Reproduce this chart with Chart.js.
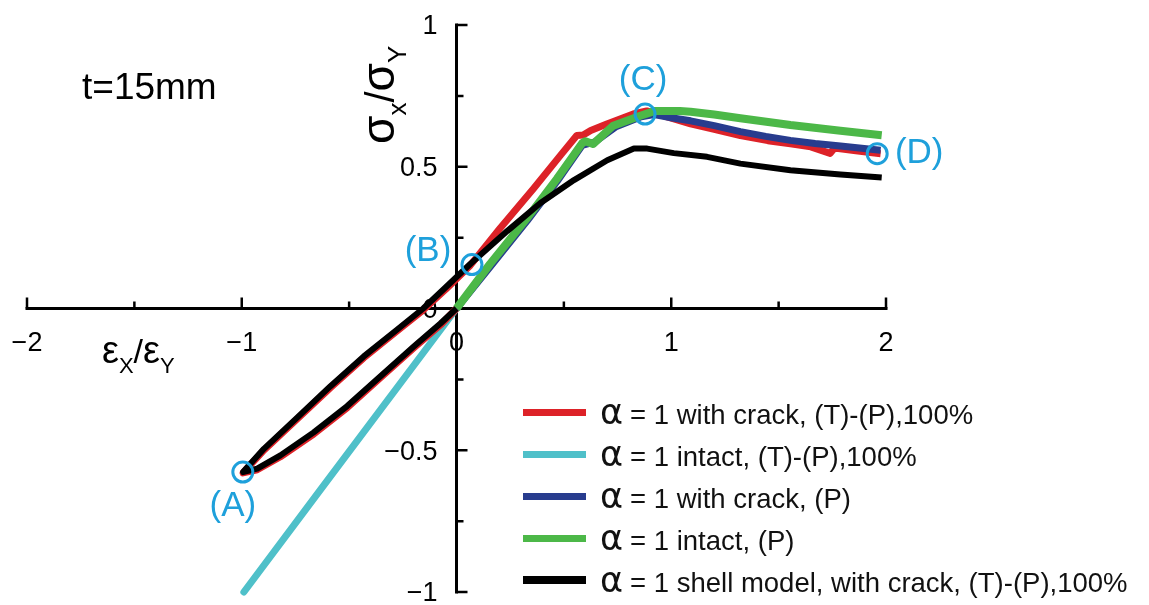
<!DOCTYPE html>
<html>
<head>
<meta charset="utf-8">
<script src="https://cdn.jsdelivr.net/npm/chart.js@4.4.0/dist/chart.umd.min.js"></script>
<style>
  html, body { margin: 0; padding: 0; background: #fff; }
  #wrap { position: relative; width: 1149px; height: 605px; }
  #legend {
    position: absolute; left: 523px; top: 391px;
    font-family: "Liberation Sans", Arial, sans-serif; font-size: 27.5px; color: #111;
  }
  .row { height: 42px; display: flex; align-items: center; white-space: nowrap; }
  .sw { width: 63px; margin-right: 14px; }
  .al { font-family: "DejaVu Sans", sans-serif; font-size: 35px; margin-right: 7px; }
</style>
</head>
<body>
<div id="wrap">
  <canvas id="chart" width="1149" height="605"></canvas>
  <div id="legend"></div>
</div>
<script>
// series names + colours (legend order)
const seriesNames = [
  '= 1 with crack, (T)-(P),100%',
  '= 1 intact, (T)-(P),100%',
  '= 1 with crack, (P)',
  '= 1 intact, (P)',
  '= 1 shell model, with crack, (T)-(P),100%'
];
const seriesColors = ['#dd2228', '#4fc0c9', '#283c8e', '#4cb848', '#000000'];

// alpha = 1 with crack, (T)-(P)
const crackTPStrain = [0, -0.075, -0.199, -0.354, -0.509, -0.665, -0.82, -0.928, -0.994,
  -0.897, -0.742, -0.587, -0.432, -0.276, -0.155, -0.05, 0.064, 0.204, 0.36, 0.484, 0.56,
  0.59, 0.625, 0.70, 0.823, 0.886, 0.95, 1.09, 1.2, 1.322, 1.45, 1.555, 1.65, 1.74, 1.76, 1.86, 1.975];
const crackTPStress = [0, -0.058, -0.139, -0.244, -0.35, -0.443, -0.523, -0.569, -0.58,
  -0.5, -0.39, -0.279, -0.174, -0.079, -0.005, 0.068, 0.152, 0.284, 0.424, 0.54, 0.61,
  0.612, 0.628, 0.651, 0.686, 0.697, 0.683, 0.651, 0.632, 0.61, 0.592, 0.581, 0.57, 0.547, 0.566, 0.556, 0.546];

// alpha = 1 intact, (T)-(P)
const intactTPStrain = [0, -0.634, -0.99, -0.634, 0, 0.16, 0.33, 0.47, 0.58];
const intactTPStress = [0, -0.64, -1.0, -0.64, 0, 0.155, 0.316, 0.456, 0.578];

// alpha = 1 with crack, (P)
const crackPStrain = [0, 0.16, 0.33, 0.47, 0.585, 0.645, 0.74, 0.86, 0.92, 1.0, 1.09, 1.2, 1.322, 1.44, 1.555, 1.67, 1.788, 1.975];
const crackPStress = [0, 0.15, 0.31, 0.45, 0.575, 0.588, 0.64, 0.676, 0.684, 0.673, 0.662, 0.645, 0.624, 0.607, 0.593, 0.582, 0.573, 0.558];

// alpha = 1 intact, (P)
const intactPStrain = [0, 0.156, 0.329, 0.469, 0.585, 0.60, 0.636, 0.73, 0.856, 0.925, 1.04, 1.09, 1.2, 1.322, 1.555, 1.788, 1.98];
const intactPStress = [0, 0.157, 0.319, 0.459, 0.583, 0.590, 0.580, 0.645, 0.68, 0.697, 0.697, 0.694, 0.684, 0.671, 0.647, 0.627, 0.611];

// alpha = 1 shell model, with crack, (T)-(P)
const shellStrain = [0, -0.075, -0.199, -0.354, -0.509, -0.665, -0.82, -0.928, -0.994,
  -0.897, -0.742, -0.587, -0.432, -0.276, -0.155, -0.05, 0.064, 0.236, 0.391, 0.547, 0.702,
  0.826, 0.888, 1.012, 1.167, 1.322, 1.555, 1.788, 1.98];
const shellStress = [0, -0.053, -0.134, -0.239, -0.344, -0.437, -0.518, -0.565, -0.577,
  -0.495, -0.385, -0.274, -0.169, -0.074, 0.0, 0.075, 0.157, 0.273, 0.372, 0.453, 0.523,
  0.564, 0.564, 0.548, 0.535, 0.511, 0.488, 0.473, 0.462];

// marked states (A)-(D)
const markerLabels = ['(A)', '(B)', '(C)', '(D)'];
const markerStrain = [-0.995, 0.072, 0.878, 1.959];
const markerStress = [-0.577, 0.155, 0.686, 0.546];

// axis ticks
const xMajorTicks = [-2, -1, 0, 1, 2];
const xMinorTicks = [-1.5, -0.5, 0.5, 1.5];
const xTickLabels = ['\u22122', '\u22121', '0', '1', '2'];
const yMajorTicks = [1, 0.5, 0, -0.5, -1];
const yMinorTicks = [0.75, 0.25, -0.25, -0.75];
const yTickLabels = ['1', '0.5', '0', '\u22120.5', '\u22121'];

const toPoints = (xs, ys) => xs.map((x, i) => ({ x: x, y: ys[i] }));

const seriesData = [
  toPoints(crackTPStrain, crackTPStress),
  toPoints(intactTPStrain, intactTPStress),
  toPoints(crackPStrain, crackPStress),
  toPoints(intactPStrain, intactPStress),
  toPoints(shellStrain, shellStress)
];
const lineWidths = [7, 7, 7, 8, 6];
const drawOrder = [3, 4, 2, 1, 0]; // black on top, cyan at the bottom

const markerColor = '#1ea0db';
const labelOffsets = [[-10, 34], [-44, -13], [-2, -34], [42, 0]];
const FONT = '"Liberation Sans", Arial, sans-serif';

function drawRuns(ctx, runs, x, y) {
  runs.forEach((r) => {
    ctx.font = r.size + 'px ' + FONT;
    ctx.fillText(r.text, x, y + (r.dy || 0));
    x += ctx.measureText(r.text).width;
  });
}

const crossAxes = {
  id: 'crossAxes',
  beforeDatasetsDraw(chart) {
    const ctx = chart.ctx;
    const xs = chart.scales.x, ys = chart.scales.y;
    const x0 = xs.getPixelForValue(0), y0 = ys.getPixelForValue(0);
    ctx.save();
    ctx.strokeStyle = '#000';
    ctx.fillStyle = '#000';
    ctx.lineWidth = 3;
    ctx.beginPath();
    ctx.moveTo(xs.getPixelForValue(-2) - 1.5, y0);
    ctx.lineTo(xs.getPixelForValue(2) + 1.5, y0);
    ctx.moveTo(x0, ys.getPixelForValue(1) - 1.5);
    ctx.lineTo(x0, ys.getPixelForValue(-1) + 1.5);
    ctx.stroke();

    ctx.lineWidth = 2.5;
    ctx.beginPath();
    xMajorTicks.forEach((v) => { const p = xs.getPixelForValue(v); ctx.moveTo(p, y0); ctx.lineTo(p, y0 - 11); });
    xMinorTicks.forEach((v) => { const p = xs.getPixelForValue(v); ctx.moveTo(p, y0); ctx.lineTo(p, y0 - 7); });
    yMajorTicks.forEach((v) => { const p = ys.getPixelForValue(v); ctx.moveTo(x0, p); ctx.lineTo(x0 + 11, p); });
    yMinorTicks.forEach((v) => { const p = ys.getPixelForValue(v); ctx.moveTo(x0, p); ctx.lineTo(x0 + 7, p); });
    ctx.stroke();

    // tick labels
    ctx.font = '27px ' + FONT;
    ctx.textBaseline = 'middle';
    ctx.textAlign = 'center';
    xMajorTicks.forEach((v, i) => ctx.fillText(xTickLabels[i], xs.getPixelForValue(v), y0 + 35));
    ctx.textAlign = 'right';
    yMajorTicks.forEach((v, i) => ctx.fillText(yTickLabels[i], x0 - 19, ys.getPixelForValue(v) + 2));

    // axis titles
    ctx.textAlign = 'left';
    ctx.textBaseline = 'alphabetic';
    drawRuns(ctx, [
      { text: '\u03b5', size: 38 }, { text: 'X', size: 22, dy: 10 },
      { text: '/', size: 34 }, { text: '\u03b5', size: 38 }, { text: 'Y', size: 22, dy: 10 }
    ], 102, 363);

    ctx.save();
    ctx.translate(394, 144);
    ctx.rotate(-Math.PI / 2);
    drawRuns(ctx, [
      { text: '\u03c3', size: 46 }, { text: 'x', size: 26, dy: 12 },
      { text: '/', size: 40 }, { text: '\u03c3', size: 46 }, { text: 'Y', size: 26, dy: 12 }
    ], 0, 0);
    ctx.restore();

    ctx.font = '37px ' + FONT;
    ctx.fillText('t=15mm', 82, 99);
    ctx.restore();
  },
  afterDatasetsDraw(chart) {
    const ctx = chart.ctx;
    const xs = chart.scales.x, ys = chart.scales.y;
    ctx.save();
    ctx.font = '35px ' + FONT;
    ctx.fillStyle = markerColor;
    ctx.textAlign = 'center';
    ctx.textBaseline = 'middle';
    markerLabels.forEach((t, i) => {
      ctx.fillText(t, xs.getPixelForValue(markerStrain[i]) + labelOffsets[i][0],
        ys.getPixelForValue(markerStress[i]) + labelOffsets[i][1]);
    });
    ctx.restore();
  }
};

const datasets = seriesData.map((pts, i) => ({
  label: seriesNames[i],
  data: pts,
  showLine: true,
  borderColor: seriesColors[i],
  backgroundColor: seriesColors[i],
  borderWidth: lineWidths[i],
  borderJoinStyle: 'round',
  pointRadius: 0,
  tension: 0,
  order: drawOrder[i],
  clip: 10
}));

datasets.push({
  label: 'states',
  data: toPoints(markerStrain, markerStress),
  showLine: false,
  pointRadius: 10,
  pointBorderWidth: 3,
  pointBorderColor: markerColor,
  pointBackgroundColor: 'rgba(0,0,0,0)',
  order: -1,
  clip: false
});

new Chart(document.getElementById('chart'), {
  type: 'scatter',
  data: { datasets: datasets },
  options: {
    responsive: false,
    animation: false,
    layout: { padding: { left: 27, right: 263, top: 25, bottom: 7 } },
    scales: {
      x: { type: 'linear', min: -2, max: 2, display: false },
      y: { type: 'linear', min: -1, max: 1, display: false }
    },
    plugins: { legend: { display: false }, tooltip: { enabled: false } }
  },
  plugins: [crossAxes]
});

// legend
const legend = document.getElementById('legend');
seriesNames.forEach((name, i) => {
  const row = document.createElement('div');
  row.className = 'row';
  const sw = document.createElement('div');
  sw.className = 'sw';
  sw.style.height = (i === 4 ? 8 : 7) + 'px';
  sw.style.background = seriesColors[i];
  const txt = document.createElement('span');
  txt.innerHTML = '<span class="al">\u03b1</span>' + name;
  row.appendChild(sw);
  row.appendChild(txt);
  legend.appendChild(row);
});
</script>
</body>
</html>
